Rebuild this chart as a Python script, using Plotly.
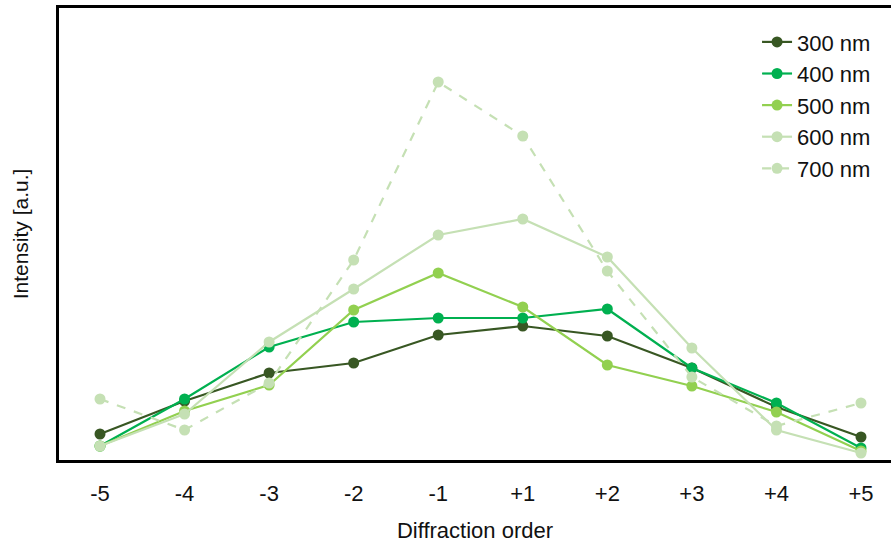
import plotly.graph_objects as go

orders = ["-5", "-4", "-3", "-2", "-1", "+1", "+2", "+3", "+4", "+5"]
wavelengths = ["300 nm", "400 nm", "500 nm", "600 nm", "700 nm"]
i300 = [26, 59, 87, 97, 125, 134, 124, 92, 53, 23]
i400 = [14, 61, 113, 138, 142, 142, 151, 92, 57, 12]
i500 = [14, 49, 75, 150, 187, 153, 95, 74, 48, 9]
i600 = [14, 46, 118, 171, 225, 241, 203, 112, 30, 7]
i700 = [61, 30, 77, 200, 378, 324, 189, 83, 34, 57]

series = [i300, i400, i500, i600, i700]
colors = ["#385723", "#00b050", "#92d050", "#c5e0b4", "#c5e0b4"]
dashes = ["solid", "solid", "solid", "solid", "dash"]

xs = list(range(len(orders)))
fig = go.Figure()
for name, vals, c, d in zip(wavelengths, series, colors, dashes):
    fig.add_trace(go.Scatter(
        x=xs, y=vals, name=name, legendgroup=name,
        mode="lines+markers",
        line=dict(color=c, width=2.2, dash=d),
        marker=dict(color=c, size=11),
    ))

fig.update_layout(
    width=891, height=545,
    margin=dict(l=59, r=0, t=8, b=85),
    paper_bgcolor="white", plot_bgcolor="white",
    font=dict(family="Liberation Sans, Arial, sans-serif", size=22, color="#111"),
    showlegend=True,
    legend=dict(x=0.839, y=0.971, xanchor="left", yanchor="top",
                bgcolor="rgba(0,0,0,0)", tracegroupgap=0,
                font=dict(size=22)),
    xaxis=dict(
        range=[-0.485, 9.355], tickvals=xs, ticktext=orders,
        showline=True, linecolor="black", linewidth=3, mirror=True,
        showgrid=False, zeroline=False, ticks="", ticklabelstandoff=12,
        tickfont=dict(size=22),
        title=dict(text="Diffraction order", standoff=18, font=dict(size=22)),
    ),
    yaxis=dict(
        range=[0, 452], showticklabels=False, showline=True,
        linecolor="black", linewidth=3, mirror=False,
        showgrid=False, zeroline=False, ticks="",
        title=dict(text="Intensity [a.u.]", standoff=22, font=dict(size=21)),
    ),
)
fig.write_html("out.html", post_script="document.body.style.margin='0';",
               config={"displayModeBar": False})
